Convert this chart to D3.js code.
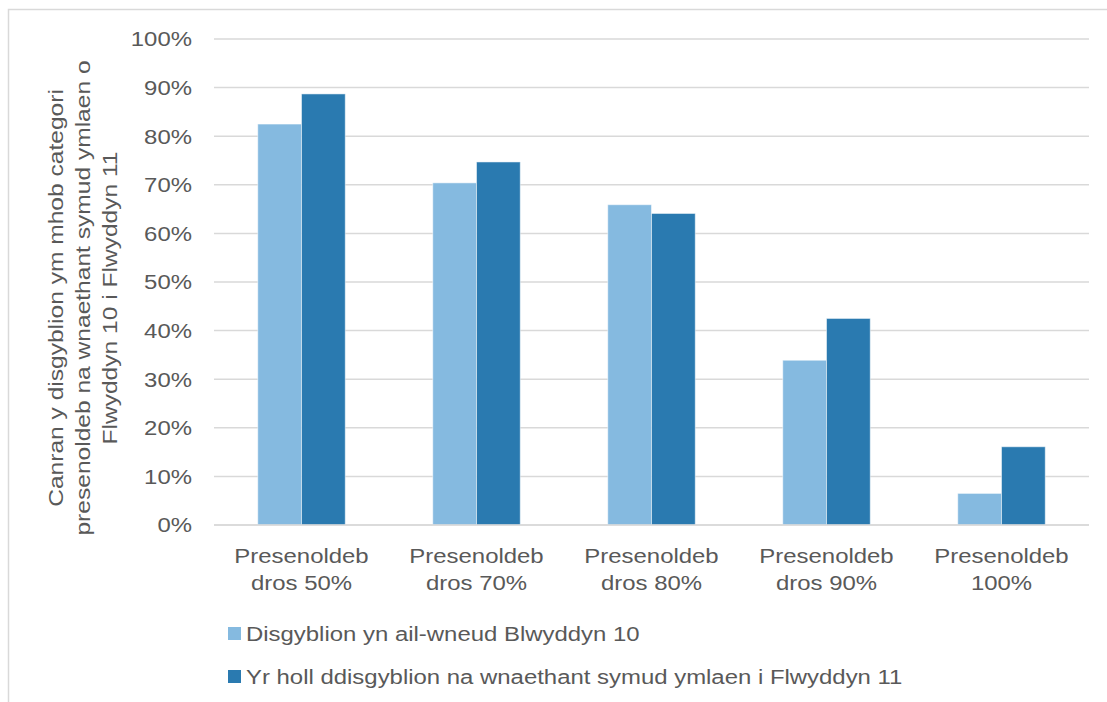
<!DOCTYPE html>
<html>
<head>
<meta charset="utf-8">
<script src="https://cdn.jsdelivr.net/npm/d3@7"></script>
<style>
  body { margin: 0; background: #fff; }
  text { font-family: "Liberation Sans", Arial, sans-serif; fill: #595959; }
</style>
</head>
<body>
<div id="chart"></div>
<script>
// Categories (each label split over two lines)
var categories = [
  ["Presenoldeb", "dros 50%"],
  ["Presenoldeb", "dros 70%"],
  ["Presenoldeb", "dros 80%"],
  ["Presenoldeb", "dros 90%"],
  ["Presenoldeb", "100%"]
];

// Series values (fractions)
var repeaters = [0.825, 0.704, 0.659, 0.339, 0.065];
var allNotProgressed = [0.887, 0.747, 0.641, 0.425, 0.161];

var seriesNames = [
  "Disgyblion yn ail-wneud Blwyddyn 10",
  "Yr holl ddisgyblion na wnaethant symud ymlaen i Flwyddyn 11"
];
var seriesColors = ["#85bae0", "#2a7ab0"];

var yTicks = [0, 0.1, 0.2, 0.3, 0.4, 0.5, 0.6, 0.7, 0.8, 0.9, 1.0];

var titleLines = [
  "Canran y disgyblion ym mhob categori",
  "presenoldeb na wnaethant symud ymlaen o",
  "Flwyddyn 10 i Flwyddyn 11"
];

var W = 1107, H = 702;
var margin = {top: 39, left: 214, right: 18, bottom: 177};
var width = W - margin.left - margin.right;
var height = H - margin.top - margin.bottom;

// the source text is a little wider than Liberation Sans, so stretch it
var stretch = 1.14;

var svg = d3.select("#chart").append("svg")
    .attr("width", W)
    .attr("height", H);

// Chart frame
svg.append("rect")
    .attr("x", 8.5).attr("y", 9.5)
    .attr("width", W + 10).attr("height", H + 10)
    .attr("fill", "none")
    .attr("stroke", "#d9d9d9")
    .attr("stroke-width", 1.5);

var g = svg.append("g")
    .attr("transform", "translate(" + margin.left + "," + margin.top + ")");

var x = d3.scaleBand()
    .domain(d3.range(categories.length))
    .range([0, width])
    .paddingInner(0.5)
    .paddingOuter(0.25);

var x1 = d3.scaleBand()
    .domain([0, 1])
    .range([0, x.bandwidth()]);

var y = d3.scaleLinear()
    .domain([0, 1])
    .range([height, 0]);

// Horizontal grid lines
g.selectAll("line.grid").data(yTicks).enter()
  .append("line")
    .attr("class", "grid")
    .attr("x1", 0)
    .attr("x2", width)
    .attr("y1", function(d) { return y(d); })
    .attr("y2", function(d) { return y(d); })
    .attr("stroke", "#d9d9d9")
    .attr("stroke-width", 1.5);

// Y tick labels
g.selectAll("text.ytick").data(yTicks).enter()
  .append("text")
    .attr("class", "ytick")
    .attr("transform", function(d) {
      return "translate(-22," + y(d) + ") scale(" + stretch + ",1)";
    })
    .attr("dy", "0.35em")
    .attr("text-anchor", "end")
    .style("font-size", "21px")
    .text(function(d) { return d3.format(".0%")(d); });

// Bars
var series = [repeaters, allNotProgressed];
series.forEach(function(vals, s) {
  g.selectAll("rect.s" + s).data(vals).enter()
    .append("rect")
      .attr("class", "s" + s)
      .attr("x", function(d, i) { return x(i) + x1(s); })
      .attr("width", x1.bandwidth())
      .attr("y", function(d) { return y(d); })
      .attr("height", function(d) { return height - y(d); })
      .attr("fill", seriesColors[s])
      .attr("stroke", "#ffffff")
      .attr("stroke-opacity", 0.5)
      .attr("stroke-width", 1);
});

// Redraw baseline on top of bars
g.append("line")
    .attr("x1", 0).attr("x2", width)
    .attr("y1", height).attr("y2", height)
    .attr("stroke", "#d9d9d9")
    .attr("stroke-width", 1.5);

// Category labels
var cat = g.selectAll("text.cat").data(categories).enter()
  .append("text")
    .attr("class", "cat")
    .attr("text-anchor", "middle")
    .attr("transform", function(d, i) {
      return "translate(" + (x(i) + x.bandwidth() / 2) + "," + (height + 38) + ") scale(" + stretch + ",1)";
    })
    .style("font-size", "21px");
cat.selectAll("tspan").data(function(d) { return d; }).enter()
  .append("tspan")
    .attr("x", 0)
    .attr("dy", function(d, i) { return i === 0 ? 0 : 27; })
    .text(function(d) { return d; });

// Y axis title
var title = svg.append("text")
    .attr("text-anchor", "middle")
    .attr("transform", "translate(63,298) rotate(-90) scale(1.17,1)")
    .style("font-size", "21px");
title.selectAll("tspan").data(titleLines).enter()
  .append("tspan")
    .attr("x", 0)
    .attr("dy", function(d, i) { return i === 0 ? 0 : 27; })
    .text(function(d) { return d; });

// Legend
var legend = svg.selectAll("g.legend").data(seriesNames).enter()
  .append("g")
    .attr("class", "legend")
    .attr("transform", function(d, i) { return "translate(228," + (627 + i * 43) + ")"; });
legend.append("rect")
    .attr("width", 13).attr("height", 13)
    .attr("fill", function(d, i) { return seriesColors[i]; });
legend.append("text")
    .attr("transform", "translate(18,14) scale(" + stretch + ",1)")
    .style("font-size", "21px")
    .text(function(d) { return d; });
</script>
</body>
</html>
